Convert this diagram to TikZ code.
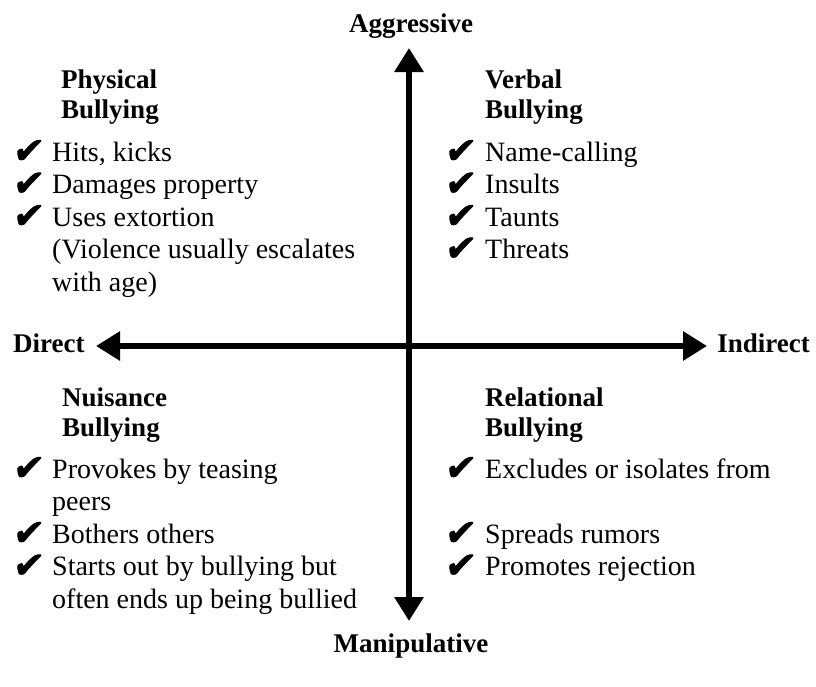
\documentclass[tikz,border=0pt]{standalone}
\usepackage{fontspec}
\setmainfont{Liberation Serif}
\newfontfamily\checkfont[FakeBold=2.5,FakeSlant=0.12]{DejaVu Sans}
\usetikzlibrary{arrows.meta}
\tikzset{%
  axislabel/.style = {font=\fontsize{27}{30}\selectfont\bfseries, inner sep=0pt},%
  heading/.style   = {font=\fontsize{27}{30}\selectfont\bfseries,%
                      align=left, anchor=base west, inner sep=0pt},%
  item/.style      = {font=\fontsize{28}{32.5}\selectfont,%
                      align=left, anchor=base west, inner sep=0pt},%
  tick/.style      = {font=\checkfont\fontsize{36}{36}\selectfont,%
                      anchor=base west, inner sep=0pt},%
  axis/.style      = {line width=6pt,%
                      {Triangle[length=24pt,width=28pt]}-{Triangle[length=24pt,width=28pt]}}%
}
\newcommand{\chk}{\symbol{"2714}}

\begin{document}
\begin{tikzpicture}[x=1pt,y=-1pt]
	\useasboundingbox (0,0) rectangle (816,686);
	% axes
	\coordinate (up)    at (409,48);
	\coordinate (down)  at (409,621);
	\coordinate (left)  at (96,346);
	\coordinate (right) at (707,346);
	\draw [axis] (up) -- (down);
	\draw [axis] (left) -- (right);
	\node [axislabel, anchor=base] (aggr) at (411,32) {Aggressive};
	\node [axislabel, anchor=base] (manip) at (411,652) {Manipulative};
	\node [axislabel, anchor=base west] (direct) at (13,352) {Direct};
	\node [axislabel, anchor=base east] (indirect) at (810,352) {Indirect};
	% physical (multi-line nodes sit on their last baseline)
	\node [heading] (phys) at (61,118) {Physical\\Bullying};
	\node [tick] (chkP1) at (12,163) {\chk};
	\node [tick] (chkP2) at (12,195.5) {\chk};
	\node [tick] (chkP3) at (12,228) {\chk};
	\node [item] (itemP1) at (52,161) {Hits, kicks};
	\node [item] (itemP2) at (52,193.5) {Damages property};
	\node [item] (itemP3) at (52,291) {Uses extortion\\(Violence usually escalates\\with age)};
	% verbal
	\node [heading] (verb) at (485,118) {Verbal\\Bullying};
	\node [tick] (chkV1) at (444,163) {\chk};
	\node [tick] (chkV2) at (444,195.5) {\chk};
	\node [tick] (chkV3) at (444,228) {\chk};
	\node [tick] (chkV4) at (444,260.5) {\chk};
	\node [item] (itemV1) at (485,161) {Name-calling};
	\node [item] (itemV2) at (485,193.5) {Insults};
	\node [item] (itemV3) at (485,226) {Taunts};
	\node [item] (itemV4) at (485,258.5) {Threats};
	% nuisance
	\node [heading] (nuis) at (62,436) {Nuisance\\Bullying};
	\node [tick] (chkN1) at (12,480) {\chk};
	\node [tick] (chkN2) at (12,545) {\chk};
	\node [tick] (chkN3) at (12,577.5) {\chk};
	\node [item] (itemN1) at (52,510.5) {Provokes by teasing\\peers};
	\node [item] (itemN2) at (52,543) {Bothers others};
	\node [item] (itemN3) at (52,608) {Starts out by bullying but\\often ends up being bullied};
	% relational
	\node [heading] (rel) at (485,436) {Relational\\Bullying};
	\node [tick] (chkR1) at (444,480) {\chk};
	\node [tick] (chkR2) at (444,545) {\chk};
	\node [tick] (chkR3) at (444,577.5) {\chk};
	\node [item] (itemR1) at (485,478) {Excludes or isolates from};
	\node [item] (itemR2) at (485,543) {Spreads rumors};
	\node [item] (itemR3) at (485,575.5) {Promotes rejection};
\end{tikzpicture}
\end{document}
